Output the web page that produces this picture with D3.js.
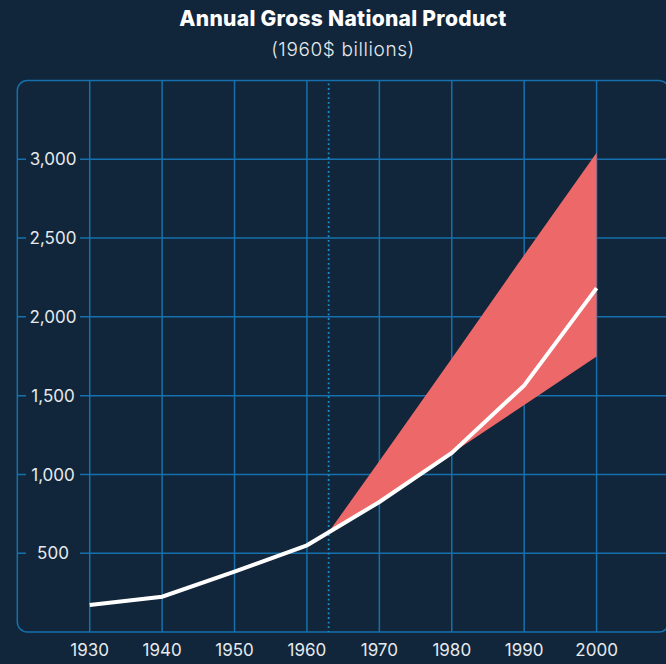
<!DOCTYPE html>
<html><head><meta charset="utf-8">
<script src="https://cdn.jsdelivr.net/npm/d3@7"></script>
<style>
html,body{margin:0;padding:0;background:#11263a;overflow:hidden;}
svg{display:block;}
text{font-family:Inter,"Noto Sans",sans-serif;}
</style></head>
<body>
<script>
const years = [1930, 1940, 1950, 1960, 1970, 1980, 1990, 2000];
const gnp = [171, 224, 383, 550, 825, 1137, 1565, 2182];
const bandYears = [1963, 1970, 1980, 1990, 2000];
const bandHigh = [634, 1085, 1735, 2393, 3042];
const bandLow = [634, 825, 1135, 1440, 1748];
const xTicks = [1930, 1940, 1950, 1960, 1970, 1980, 1990, 2000];
const yTicks = [500, 1000, 1500, 2000, 2500, 3000];
const markerYear = 1963;
const title = "Annual Gross National Product";
const subtitle = "(1960$ billions)";

const W = 666, H = 664;
const bg = "#11263a", gridC = "#1670ad";
const svg = d3.select("body").append("svg").attr("width", W).attr("height", H);
svg.append("rect").attr("width", W).attr("height", H).attr("fill", bg);

const x = d3.scaleLinear().domain([1920, 2010]).range([17.3, 669]);
const y = d3.scaleLinear().domain([0, 3500]).range([632, 80.5]);

// frame
svg.append("rect").attr("x", x(1920)).attr("y", y(3500))
  .attr("width", x(2010) - x(1920)).attr("height", y(0) - y(3500))
  .attr("rx", 10).attr("fill", "none").attr("stroke", gridC).attr("stroke-width", 1.5);

// vertical grid
svg.append("g").selectAll("line").data(xTicks).join("line")
  .attr("x1", d => x(d)).attr("x2", d => x(d))
  .attr("y1", y(3500)).attr("y2", y(0))
  .attr("stroke", gridC).attr("stroke-width", 1.5);

// horizontal grid
svg.append("g").selectAll("line").data(yTicks).join("line")
  .attr("x1", x(1920)).attr("x2", x(2010))
  .attr("y1", d => y(d)).attr("y2", d => y(d))
  .attr("stroke", gridC).attr("stroke-width", 1.5);

// marker dotted line
svg.append("line").attr("x1", x(markerYear)).attr("x2", x(markerYear))
  .attr("y1", y(3500) + 3).attr("y2", y(0))
  .attr("stroke", "#1a8ccc").attr("stroke-width", 1.8)
  .attr("stroke-dasharray", "1.8,2.8");

// band
const band = bandYears.map((d, i) => ({year: d, lo: bandLow[i], hi: bandHigh[i]}));
svg.append("path").datum(band)
  .attr("d", d3.area().x(d => x(d.year)).y0(d => y(d.lo)).y1(d => y(d.hi)))
  .attr("fill", "#ec6869");

// line
const pts = years.map((d, i) => ({year: d, v: gnp[i]}));
svg.append("path").datum(pts)
  .attr("d", d3.line().x(d => x(d.year)).y(d => y(d.v)))
  .attr("fill", "none").attr("stroke", "#ffffff").attr("stroke-width", 4)
  .attr("stroke-linejoin", "miter");

// y labels with background
const yl = svg.append("g").selectAll("g").data(yTicks).join("g")
  .attr("transform", d => `translate(53,${y(d)})`);
yl.append("rect").attr("x", -27).attr("y", -8).attr("width", 54).attr("height", 16).attr("fill", bg);
yl.append("text").attr("text-anchor", "middle").attr("dy", "0.36em")
  .attr("fill", "#e6eaee").attr("font-size", 17)
  .text(d => d3.format(",")(d));

// x labels
svg.append("g").selectAll("text").data(xTicks).join("text")
  .attr("x", d => x(d)).attr("y", 656).attr("text-anchor", "middle")
  .attr("fill", "#e6eaee").attr("font-size", 17).text(d => d);

// titles
svg.append("text").attr("x", 343).attr("y", 26).attr("text-anchor", "middle")
  .attr("fill", "#ffffff").attr("font-size", 21).attr("font-weight", 800)
  .attr("letter-spacing", "0.3").text(title);
svg.append("text").attr("x", 343).attr("y", 56).attr("text-anchor", "middle")
  .attr("fill", "#e6eaee").attr("font-size", 19).attr("font-weight", 300)
  .attr("letter-spacing", "0.6").text(subtitle);
</script>
</body></html>
